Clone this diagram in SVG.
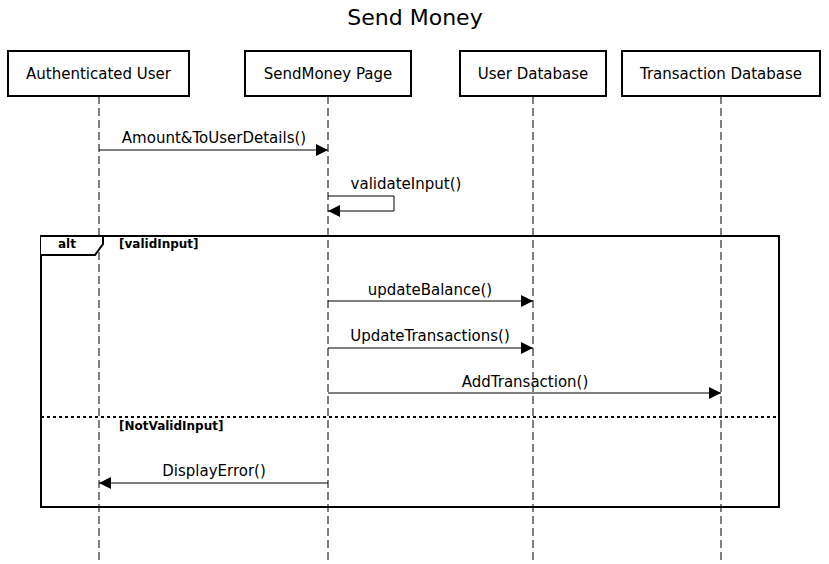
<svg xmlns="http://www.w3.org/2000/svg" width="829" height="564" viewBox="0 0 829 564">
<style>
text{font-family:"DejaVu Sans","Liberation Sans",sans-serif;fill:#000}
.box{fill:#fff;stroke:#000;stroke-width:2}
.life{stroke:#000;stroke-width:1;stroke-dasharray:8,4;fill:none}
.msg{stroke:#000;stroke-width:1;fill:none;marker-end:url(#ah)}
.lbl{font-size:15px;text-anchor:middle}
.g{font-size:12px;font-weight:bold}
</style>
<defs>
<marker id="ah" viewBox="0 0 12 12" refX="12" refY="6" markerWidth="12" markerHeight="12" markerUnits="userSpaceOnUse" orient="auto">
<path d="M0,0 L12,6 L0,12 Z" fill="#000"/>
</marker>
</defs>
<rect width="829" height="564" fill="#fff"/>
<text x="415" y="25" font-size="22" text-anchor="middle">Send Money</text>
<g id="lifelines">
<line class="life" x1="99" y1="96" x2="99" y2="560"/>
<line class="life" x1="328" y1="96" x2="328" y2="560"/>
<line class="life" x1="533" y1="96" x2="533" y2="560"/>
<line class="life" x1="721" y1="96" x2="721" y2="560"/>
</g>
<g id="user"><rect class="box" x="8" y="51" width="181" height="45"/><text class="lbl" x="98.5" y="79">Authenticated User</text></g>
<g id="page"><rect class="box" x="245" y="51" width="166" height="45"/><text class="lbl" x="328" y="79">SendMoney Page</text></g>
<g id="userdb"><rect class="box" x="460" y="51" width="146" height="45"/><text class="lbl" x="533" y="79">User Database</text></g>
<g id="txdb"><rect class="box" x="622" y="51" width="198" height="45"/><text class="lbl" x="721" y="79">Transaction Database</text></g>
<g id="alt">
<rect x="41" y="236" width="738" height="271" fill="none" stroke="#000" stroke-width="2"/>
<path d="M41,236 L103,236 L103,244 L95,255 L41,255" fill="#fff" stroke="#000" stroke-width="2"/>
<text class="g" x="58" y="248">alt</text>
<text class="g" x="119" y="248">[validInput]</text>
<line x1="41" y1="417" x2="779" y2="417" stroke="#000" stroke-width="2" stroke-dasharray="3,3"/>
<text class="g" x="119" y="430">[NotValidInput]</text>
</g>
<g id="connectors">
<line class="msg" x1="99" y1="150" x2="328" y2="150"/>
<text class="lbl" x="214" y="143">Amount&amp;ToUserDetails()</text>
<polyline class="msg" points="328,196 394,196 394,211 328,211"/>
<text class="lbl" x="406" y="189">validateInput()</text>
<line class="msg" x1="328" y1="301" x2="533" y2="301"/>
<text class="lbl" x="430" y="295">updateBalance()</text>
<line class="msg" x1="328" y1="348" x2="533" y2="348"/>
<text class="lbl" x="430" y="341">UpdateTransactions()</text>
<line class="msg" x1="328" y1="393" x2="721" y2="393"/>
<text class="lbl" x="525" y="387">AddTransaction()</text>
<line class="msg" x1="328" y1="483" x2="99" y2="483"/>
<text class="lbl" x="214" y="476">DisplayError()</text>
</g>
</svg>
